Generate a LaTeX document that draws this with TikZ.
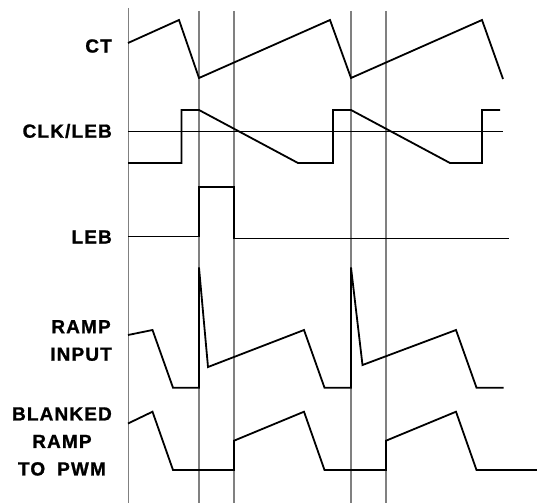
\documentclass[tikz,border=0pt]{standalone}
\usepackage{fontspec}
\setmainfont{Liberation Sans}[LetterSpace=6, BoldFeatures={FakeBold=1.2}]
\usepackage{tikz}
\usetikzlibrary{positioning}
\definecolor{gridgrey}{HTML}{808080}

\begin{document}
\begin{tikzpicture}[x=1pt, y=-1pt, line join=miter,
    wave/.style={black, line width=1.8pt},
    timeline/.style={gridgrey, line width=1.4pt},
    siglabel/.style={anchor=east, align=center, font=\fontsize{19}{27.5}\selectfont\bfseries, inner sep=0pt}]
    \useasboundingbox (0,0) rectangle (537,503);

    % Time marks
    \coordinate (t0) at (128.5,8);
    \coordinate (t1) at (199,11);
    \coordinate (t2) at (234,11);
    \coordinate (t3) at (351,11);
    \coordinate (t4) at (386,11);
    \draw[timeline] (t0) -- (128.5,503);
    \foreach \t in {t1,t2,t3,t4}
        \draw[timeline] (\t) -- (\t |- 0,503);

    % Labels
    \node[siglabel] (ct) at (112,46) {CT};
    \node[siglabel] (clk) at (112,131) {CLK/LEB};
    \node[siglabel] (leb) at (112,237) {LEB};
    \node[siglabel] (ramp) at (112,340.5) {RAMP\\INPUT};
    \node[siglabel] (blank) at (112,441.5) {BLANKED\\RAMP\\TO\hspace{12pt}PWM};

    % CT
    \draw[wave] (128,43) -- (179,20) -- (199,78) -- (330,20) -- (351,78)
        -- (482,20) -- (503,79);

    % CLK/LEB
    \draw[black, line width=0.9pt] (128,131.5) -- (503,131.5);
    \draw[wave] (128,163) -- (181.5,163) -- (181.5,110) -- (199,110)
        -- (298,163) -- (333,163) -- (333,110) -- (351,110)
        -- (450,163) -- (482,163) -- (482,110) -- (500,110);

    % LEB
    \draw[wave] (128,236.5) -- (199,236.5) -- (199,187) -- (234,187)
        -- (234,238.5) -- (509,238.5);

    % Ramp input
    \draw[wave] (128,335) -- (152.5,330) -- (173,387.7) -- (199,387.7)
        -- (199,267.5) -- (208,367) -- (304,330) -- (324.5,387.7)
        -- (351,387.7) -- (351,267.5) -- (362.5,365) -- (456,330)
        -- (476.5,387.7) -- (503.5,387.7);

    % Blanked ramp
    \draw[wave] (128,423.5) -- (152.5,411.7) -- (173,470) -- (234,470)
        -- (234,440.7) -- (304,411.7) -- (324.5,470) -- (386,470)
        -- (386,440.7) -- (456,411.7) -- (476.5,470) -- (537,470);
\end{tikzpicture}
\end{document}
